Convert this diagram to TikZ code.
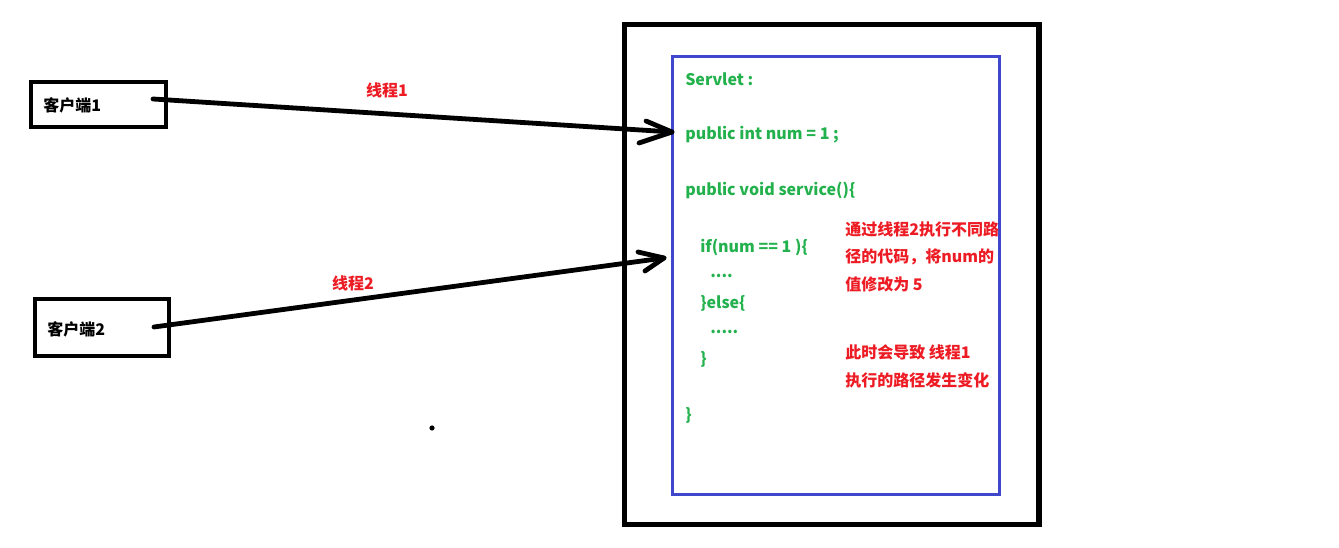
\documentclass[tikz,border=0pt]{standalone}
\usepackage{fontspec}
\setmainfont{Noto Sans CJK SC}
\definecolor{codegreen}{RGB}{34,177,76}
\definecolor{notered}{RGB}{237,28,36}
\definecolor{boxblue}{RGB}{63,72,204}
\begin{document}
\begin{tikzpicture}[x=0.75pt,y=-0.75pt,
  thick line/.style={line width=3.6pt,line cap=round,line join=round},
  codetxt/.style={anchor=west,inner sep=0pt,text=codegreen,font=\fontsize{12pt}{14pt}\selectfont\bfseries},
  notetxt/.style={anchor=west,inner sep=0pt,text=notered,font=\fontsize{12pt}{14pt}\selectfont\bfseries},
  lbl/.style={inner sep=0pt,text=notered,font=\fontsize{12pt}{14pt}\selectfont\bfseries},
  ctxt/.style={anchor=west,inner sep=0pt,font=\fontsize{12pt}{14pt}\selectfont\bfseries}]
\useasboundingbox (0,0) rectangle (1339,548);
% client boxes
\draw[line width=3.6pt] (31,82) rectangle (166,127);
\node[ctxt] (c1) at (43,105) {客户端1};
\draw[line width=3.6pt] (35,299) rectangle (169,356);
\node[ctxt] (c2) at (47,329) {客户端2};
% outer and inner boxes
\draw[line width=3.8pt] (624.5,24.5) rectangle (1039,524.5);
\draw[boxblue,line width=2.4pt] (672.5,56.5) rectangle (999.5,494.5);
% arrows
\coordinate (s1) at (153,99);
\coordinate (t1) at (672,132);
\coordinate (s2) at (154,327);
\coordinate (t2) at (664,258);
\draw[thick line] (s1) -- (t1);
\draw[thick line] (646,121) -- (t1) -- (639,143);
\draw[thick line] (s2) -- (t2);
\draw[thick line] (638,252) -- (t2) -- (645,271);
\node[lbl] (l1) at (387,90) {线程1};
\node[lbl] (l2) at (353,283) {线程2};
% dot
\fill (432,428) circle (2.6);
% code
\node[codetxt] (k1) at (685,79) {Servlet :};
\node[codetxt] (k2) at (685,135) {public int num = 1 ;};
\node[codetxt] (k3) at (685,190) {public void service()\{};
\node[codetxt] (k4) at (700,247) {if(num == 1 )\{};
\node[codetxt] (k5) at (710,276) {....};
\node[codetxt] (k6) at (700,303) {\}else\{};
\node[codetxt] (k7) at (710,332) {.....};
\node[codetxt] (k8) at (700,359) {\}};
\node[codetxt] (k9) at (685,415) {\}};
% notes
\node[notetxt] (n1) at (845,229) {通过线程2执行不同路};
\node[notetxt] (n2) at (845,257) {径的代码，将num的};
\node[notetxt] (n3) at (845,284) {值修改为 5};
\node[notetxt] (n4) at (845,352) {此时会导致 线程1};
\node[notetxt] (n5) at (845,380) {执行的路径发生变化};
\end{tikzpicture}
\end{document}
